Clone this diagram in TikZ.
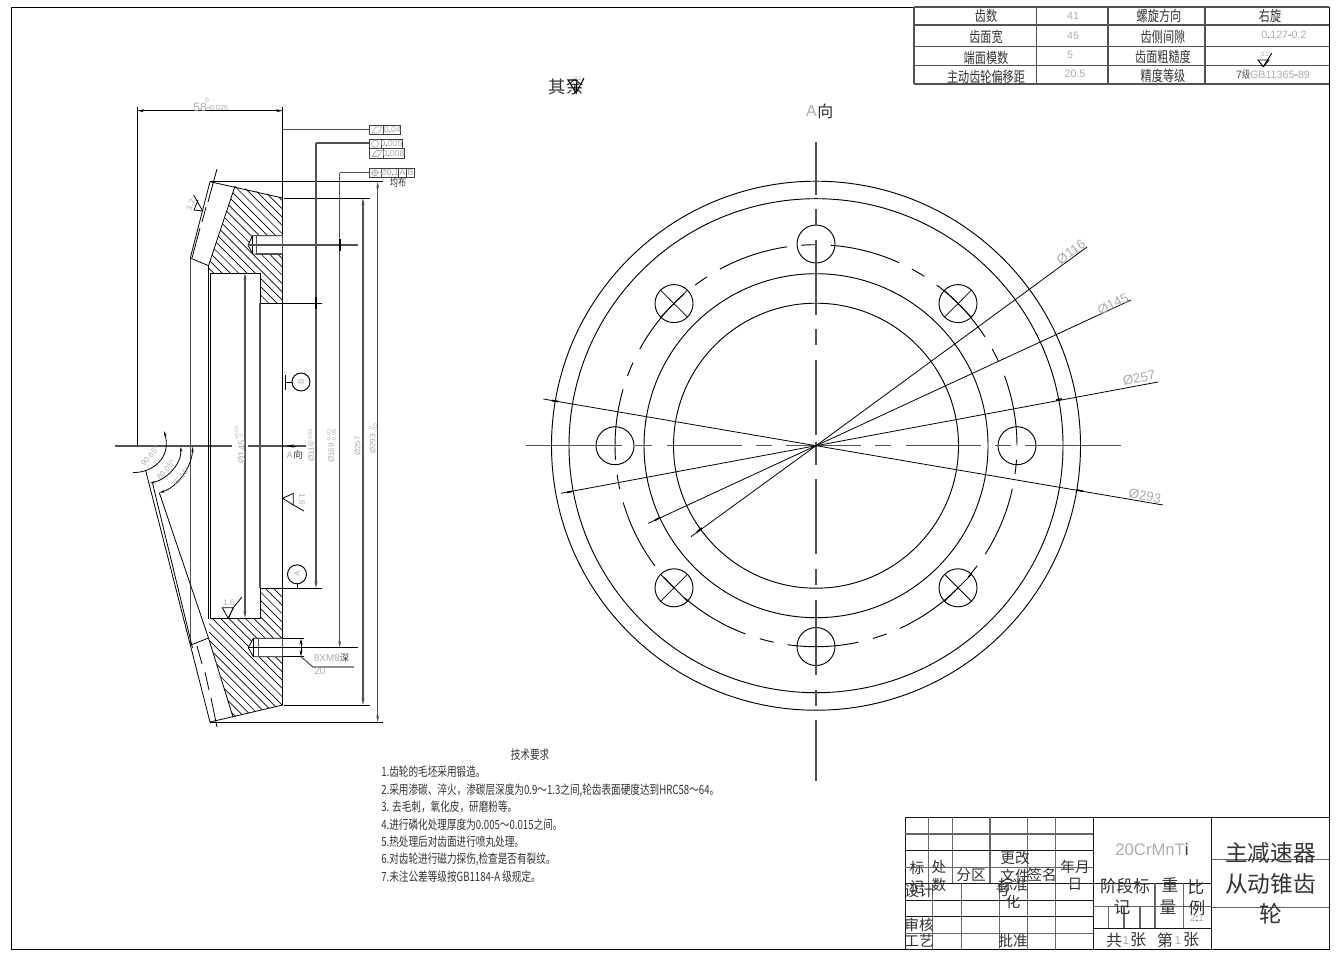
\documentclass[tikz,border=0pt]{standalone}
\usepackage{fontspec}
\usetikzlibrary{arrows.meta}
\setmainfont{Liberation Sans}
\newfontfamily\cjfull{Noto Sans CJK SC}
\newfontfamily\cjn[FakeStretch=0.76]{Noto Sans CJK SC}
\newfontfamily\cjs[FakeStretch=0.76]{Noto Sans CJK SC}
\newcommand\fz[1]{\fontsize{#1}{#1}\selectfont}
\definecolor{dimtxt}{gray}{0.68}
\definecolor{cjktxt}{gray}{0.2}
\tikzset{
  outl/.style={draw=black,line width=0.6pt},
  frame/.style={draw=black,line width=0.75pt},
  dimln/.style={draw=black!68,line width=0.8pt},
  thin dim/.style={draw=black,line width=0.6pt},
  gridg/.style={draw=black!60,line width=0.85pt},
  gridb/.style={draw=black!90,line width=0.6pt},
  arr/.style={-{Stealth[length=5pt,width=2.2pt]}},
  arrb/.style={{Stealth[length=5pt,width=2.2pt]}-{Stealth[length=5pt,width=2.2pt]}},
  tick/.style={draw=black,line width=1.4pt},
  dimt/.style={text=dimtxt,inner sep=0pt,font=\fz{8}},
  dimr/.style={text=dimtxt,inner sep=0pt,font=\fz{6},rotate=90},
  dimtol/.style={text=dimtxt,inner sep=0pt,font=\fz{4},rotate=90},
  cj/.style={text=cjktxt,inner sep=0pt,font=\cjfull\fz{11}},
  cjb/.style={text=cjktxt,inner sep=0pt,font=\cjfull\fz{17}},
  cjt/.style={text=cjktxt,inner sep=0pt,font=\cjn\fz{11}},
  tech/.style={text=cjktxt,inner sep=0pt,anchor=west,font=\cjs\fz{9.5}},
  fcf/.style={draw=black!75,line width=0.7pt,fill=white},
}
\begin{document}
\begin{tikzpicture}[x=0.75pt,y=-0.75pt,line join=miter]
\useasboundingbox (0,0) rectangle (1341,957);
\fill[white] (0,0) rectangle (1341,957);
% drawing frame
\draw[frame] (11,7) rectangle (1329,949.5);

% ===== section view: hatching =====
\begin{scope}
\clip (235,186)--(282.7,198)--(282.7,303)--(260,303)--(260,273)--(210,273)--(208.5,265.7)--cycle;
\foreach \c in {-90,-81.7,...,90}{\draw[black,line width=0.5pt] (150,150+\c)--(300,300+\c);}
\end{scope}
\begin{scope}
\clip (209,618)--(260,618)--(260,588)--(282.7,588)--(282.7,705)--(233,717)--(209,638)--cycle;
\foreach \c in {290,298.3,...,490}{\draw[black,line width=0.5pt] (150,150+\c)--(300,300+\c);}
\end{scope}

% axis
\draw[dimln,line width=0.9pt] (115,446)--(231.7,446);
\draw[dimln,line width=0.9pt] (248,446)--(305.7,446);
\draw[draw=black,line width=0.5pt,{Stealth[length=6pt,width=2.4pt]}-] (286,446)--(296,446);

% dimension 58
\draw[thin dim] (137.3,107)--(137.3,446);
\draw[thin dim,arrb] (137.3,110.7)--(282.7,110.7);

% gear outline top
\draw[outl] (210,181.7)--(282.7,198);
\draw[outl] (210,181.7)--(190.3,258)--(208.5,265.7);
\draw[outl] (235,186)--(208.5,265.7)--(208.5,273);
\draw[outl] (217,169)--(208,202);
\draw[outl] (206,207)--(202,222);
\draw[outl] (200,228)--(192,258);
% section inner
\draw[outl] (208.5,265.7)--(208.5,619);
\draw[outl] (210.5,273)--(210.5,618);
\draw[outl] (210.5,273)--(260,273)--(260,303)--(322,303);
\draw[outl] (210,618)--(260,618)--(260,588)--(322,588);
\draw[dimln] (190.3,258)--(190.3,645);
\draw[dimln] (260,303)--(260,588);
\draw[outl,line width=0.9pt] (282.7,107)--(282.7,705);
% gear outline bottom
\draw[outl] (208.5,638)--(233,717);
\draw[outl] (190.7,645)--(208.5,638);
\draw[outl] (145.7,470.7)--(210,722)--(282.7,705);
\draw[outl] (152.5,483)--(192.5,648);
\draw[outl] (197,646)--(202,664);
\draw[outl] (205,672)--(209,690);
\draw[outl] (211,698)--(217,727);
\draw[outl] (159.3,492.7)--(208.5,638);

% tapped hole top
\draw[outl,fill=white] (282.7,235.7)--(252.7,235.7)--(248,245)--(252.7,254)--(282.7,254);
\draw[dimln,line width=1.1pt] (256.7,235.7) rectangle (282.7,254);
\draw[outl] (252.7,235.7)--(252.7,254);
\draw[dimln] (248,245)--(358,245);
% tapped hole bottom
\draw[outl,fill=white] (282.7,638.3)--(253.3,638.3)--(248.3,647.7)--(253.3,656.7)--(282.7,656.7);
\draw[dimln,line width=1.1pt] (258.3,638.3) rectangle (282.7,656.7);
\draw[outl] (253.3,638.3)--(253.3,656.7);
\draw[outl] (248.3,647.7)--(358,647.7);
\draw[outl] (282.7,638.3)--(304,638.3);
\draw[outl] (282.7,656.7)--(304,656.7);
\draw[thin dim,arrb] (301,638.3)--(301,656.7);
\draw[dimln] (301,656.7)--(313,667)--(354,667);
\node[dimt,anchor=west,font=\fz{7.5}] (n8xm) at (313.5,657.5) {8XM8\textcolor{cjktxt}{\cjfull\fz{7}深}};
\node[dimt,anchor=west,font=\fz{7.5}] (n20) at (314,671) {20};

% horizontal extension lines
\draw[outl] (210,181.7)--(383,181.7);
\draw[outl] (284,198)--(370,198);
\draw[outl] (284,705)--(370,705);
\draw[outl] (210,722)--(383,722);

% vertical dimension lines
\draw[dimln,arrb] (245,273)--(245,618);
\draw[dimln,arr] (316,143)--(316,588);
\draw[tick] (316,297)--(316,309);
\draw[dimln,arr] (339.7,172.7)--(339.7,647.7);
\draw[tick] (339.7,239)--(339.7,251);
\draw[dimln,arrb] (363,198)--(363,705);
\draw[dimln,arrb] (377.7,181.7)--(377.7,722);

% leaders to feature frames
\draw[dimln] (282.7,129.7)--(369,129.7);
\draw[dimln] (316,143)--(369,143);
\draw[dimln] (339.7,172.7)--(369,172.7);

% feature control frames
\draw[fcf] (369,125) rectangle (400.7,134.5);
\draw[fcf] (383.7,125)--(383.7,134.5);
\draw[dimtxt,line width=0.5pt] (372,133)--(376,127)--(382,127)--(378,133)--cycle;
\node[dimt,font=\fz{6.5}] (fa) at (392.3,130) {0\textcolor{black}{.}04};
\draw[fcf] (369,139) rectangle (402,148.5);
\draw[fcf] (381,139)--(381,148.5);
\draw[dimtxt,line width=0.5pt] (375,143.7) circle (3.6);
\node[dimt,font=\fz{6.5}] (fb) at (391.5,144) {0\textcolor{black}{.}005};
\draw[fcf] (369,148.5) rectangle (404,158);
\draw[fcf] (383,148.5)--(383,158);
\draw[dimtxt,line width=0.5pt] (372,156.5)--(376,150.5)--(382,150.5)--(378,156.5)--cycle;
\node[dimt,font=\fz{6.5}] (fc) at (393.5,153.5) {0\textcolor{black}{.}008};
\draw[fcf] (369,168) rectangle (414.5,177.7);
\draw[fcf] (381,168)--(381,177.7) (398,168)--(398,177.7) (406.7,168)--(406.7,177.7);
\draw[dimtxt,line width=0.5pt] (375,172.8) circle (3) (370.5,172.8)--(379.5,172.8) (375,169)--(375,176.5);
\node[dimt,font=\fz{6.5}] (fd) at (389.5,173) {Ø0\textcolor{black}{.}1};
\node[dimt,font=\fz{6.5}] (fe) at (402.3,173) {A};
\node[dimt,font=\fz{6.5}] (ff) at (410.5,173) {B};
\node[cjt,font=\cjn\fz{8}] (jb) at (398,182.5) {均布};

% datum symbols
\draw[outl] (285.7,375)--(285.7,390) (285.7,382)--(292,382);
\draw[outl,line width=0.7pt] (301,382) circle (9);
\node[dimt,font=\fz{6},rotate=90] (db) at (301,382) {B};
\draw[outl] (297,584)--(297,588);
\draw[outl,line width=0.7pt] (297,574.3) circle (9.5);
\node[dimt,font=\fz{6},rotate=90] (da) at (297,574) {A};

% roughness marks
\draw[outl] (193.7,195)--(202.7,211)--(194,210)--(198,200);
\node[dimt,font=\fz{6},rotate=70] (r1) at (190.7,205) {3.2};
\draw[outl] (282.7,498.3)--(293.3,493.3)--(293.3,505)--cycle;
\draw[outl] (293.3,505)--(304,511);
\node[dimt,font=\fz{6},rotate=-90] (r2) at (302,499.5) {1.6};
\draw[outl] (222.3,607.7)--(233.3,607.7)--(228.3,618.3)--cycle;
\draw[outl] (233.3,607.7)--(228.3,618.3) (233.3,607.7)--(241.7,597.3);
\node[dimt,font=\fz{6}] (r3) at (229,603) {1.6};

% angle arcs
\draw[thin dim,-{Stealth[length=4pt,width=1.8pt]}] (133,472.5) .. controls (152,473) and (172,458) .. (164,431);
\draw[thin dim,{Stealth[length=4pt,width=1.8pt]}-{Stealth[length=4pt,width=1.8pt]}] (150,483) .. controls (166,480) and (182,464) .. (180.7,446.7);
\draw[thin dim,{Stealth[length=4pt,width=1.8pt]}-{Stealth[length=4pt,width=1.8pt]}] (159.3,492.7) .. controls (176,488) and (192,468) .. (192.7,446.7);
\node[dimt,font=\fz{6},rotate=48] (a1) at (150,456) {90.65°};
\node[dimt,font=\fz{6},rotate=48] (a2) at (166,470) {80.05°};
\node[dimt,font=\fz{6},rotate=48] (a3) at (181,477) {75.15°};

% dimension texts
\node[dimt,font=\fz{9}] (d58) at (202,107.5) {58-};
\node[dimt,font=\fz{5}] (d58a) at (207,100.5) {0};
\node[dimt,font=\fz{5.5}] (d58b) at (219,108) {0.025};
\node[dimr,font=\fz{7}] (d145) at (241.7,452) {Ø145};
\node[dimtol] (d145a) at (236.5,433) {+0.03};
\node[dimtol] (d145b) at (241.5,436) {0};
\node[dimr] (d116) at (311,452) {Ø116};
\node[dimtol] (d116a) at (310,436) {+0.03};
\node[dimr] (d169) at (331,453) {Ø169};
\node[dimtol] (d169a) at (329,436) {-0.03};
\node[dimtol] (d169b) at (334,436) {-0.05};
\node[dimr] (d257) at (357.5,446) {Ø257};
\node[dimr] (d293) at (372.7,444) {Ø293};
\node[dimtol] (d293a) at (371,428) {0};
\node[dimtol] (d293b) at (375,428) {-0.5};
\node[dimt,anchor=east,font=\fz{7}] (aA) at (293,455) {A};
\node[cj,anchor=west,font=\cjfull\fz{7}] (aX) at (293,455) {向};

% ===== front view =====
\foreach \r in {264.5,247,172,142.5}{\draw[outl,line width=0.7pt] (816,445.7) circle (\r);}
\foreach \k in {0,...,10}{
  \pgfmathsetmacro\sa{163.7+\k*32.73}
  \draw[outl,line width=0.7pt] plot[domain=\sa:\sa+20.3,samples=12,smooth] ({816+201*cos(\x)},{445.7-201*sin(\x)});
  \draw[outl,line width=0.7pt] plot[domain=\sa+24.6:\sa+28.7,samples=4] ({816+201*cos(\x)},{445.7-201*sin(\x)});
}
\foreach \p in {(816,244),(816,646.5),(615,445.7),(1017,445.7)}{\draw[outl,line width=0.7pt] \p circle (19);}
\foreach \cx/\cy in {958/303.6,674/303.6,958/587.8,674/587.8}{
  \draw[outl,line width=0.7pt] (\cx,\cy) circle (19);
  \draw[outl] (\cx-13.4,\cy-13.4)--(\cx+13.4,\cy+13.4) (\cx-13.4,\cy+13.4)--(\cx+13.4,\cy-13.4);
}
% centre lines
\foreach \a/\b in {526/622,635/652,667/742,756/772,786/861,875/891,906/981,995/1011,1025/1121}{
  \draw[dimln] (\a,445.7)--(\b,445.7);}
\foreach \a/\b in {142/195,209/225,240/315,329/345,360/435,441.7/465,479/554,569/585,600/675,690/706,720/781}{
  \draw[dimln] (816,\a)--(816,\b);}
% diameter leaders
\coordinate (cc) at (816,445.7);
\draw[outl] (cc)--(1087,247);
\draw[outl] (cc)--(1131,300);
\draw[outl] (cc)--(1158,382);
\draw[outl] (cc)--(1163,505);
\draw[outl] (cc)--(543.3,399);
\draw[outl] (cc)--(561,493.3);
\draw[outl] (cc)--(648.3,523.3);
\draw[outl] (cc)--(691,536.7);
\foreach \x/\y/\u/\v in {552/400.5/558/401.5,567/492.3/572/491.4,655/520.3/660/517.5,697/532/702/528,1062/399/1056/400,1083/491.2/1077/490}{
  \draw[black,line width=1.3pt] (\x,\y)--(\u,\v);}
\node[dimt,font=\fz{10},rotate=36] (p116) at (1071,252) {Ø116};
\node[dimt,font=\fz{10},rotate=27] (p145) at (1113,304) {Ø145};
\node[dimt,font=\fz{10},rotate=10] (p257) at (1139,378) {Ø257};
\node[dimt,font=\fz{10},rotate=-10] (p293) at (1145,496) {Ø293};
\node[dimt,anchor=east,font=\fz{12}] (vA) at (817,111) {A};
\node[cj,anchor=west,font=\cjfull\fz{12}] (vX) at (817,111) {向};

% other roughness
\node[cj,font=\cjfull\fz{13}] (qy) at (566,87) {其余};
\draw[outl,line width=0.8pt] (568,80)--(577,80)--(576,93)--cycle;
\draw[outl,line width=0.8pt] (576,93)--(584,78);
\node[dimt,font=\fz{4}] (q32) at (578,78.5) {3.2};

% ===== parameter table =====
\foreach \y in {7,25,46.7,65.7,84}{\draw[dimln,line width=0.9pt] (914,\y)--(1329,\y);}
\foreach \x in {914,1036.7,1108,1205}{\draw[dimln,line width=0.9pt] (\x,7)--(\x,84);}
\node[cjt] (t1) at (986,15.5) {齿数};
\node[dimt] (t2) at (1073,16) {41};
\node[cjt] (t3) at (1159,16) {螺旋方向};
\node[cjt] (t4) at (1270,15.5) {右旋};
\node[cjt] (t5) at (986,37) {齿面宽};
\node[dimt] (t6) at (1073,36) {45};
\node[cjt] (t7) at (1163,37) {齿侧间隙};
\node[dimt] (t8) at (1284,35) {0\textcolor{black}{.}127\textcolor{black!70}{-}0.2};
\node[cjt] (t9) at (986,58) {端面模数};
\node[dimt] (t10) at (1070,55) {5};
\node[cjt] (t11) at (1163,57) {齿面粗糙度};
\draw[outl,line width=0.7pt] (1258,60)--(1269,60)--(1263.3,66.7)--cycle;
\draw[outl,line width=0.7pt] (1263.3,66.7)--(1271.7,53.3);
\node[dimt,font=\fz{4.5}] (t12) at (1265,54) {3.2};
\node[cjt] (t13) at (986,77) {主动齿轮偏移距};
\node[dimt] (t14) at (1075,74) {20.5};
\node[cjt] (t15) at (1163,76) {精度等级};
\node[dimt] (t16) at (1273,74) {\textcolor{black!70}{7\cjn 级}GB11365\textcolor{black!70}{-}89};

% ===== title block =====
\draw[gridb] (905,817.3)--(1329,817.3);
\draw[gridb] (905,817.3)--(905,949.5);
\draw[gridb] (1329,817.3)--(1329,949.5);
\foreach \x in {928.3,952.3,990,1027.7,1055.7}{\draw[gridg] (\x,817.3)--(\x,883.3);}
\foreach \x in {932.7,961.7,999.3,1027.7,1055.7}{\draw[gridg] (\x,883.3)--(\x,949.5);}
\draw[gridb] (1093.3,817.3)--(1093.3,949.5);
\draw[gridb] (1211.7,817.3)--(1211.7,949.5);
\draw[gridg] (905,834)--(1093.3,834);
\draw[gridb] (905,850.7)--(1093.3,850.7);
\draw[gridg] (905,867.3)--(1093.3,867.3);
\draw[gridb] (905,883.3)--(1211.7,883.3);
\draw[gridb] (905,900)--(1093.3,900);
\draw[gridb] (905,916.7)--(1093.3,916.7);
\draw[gridg] (905,933.3)--(1093.3,933.3);
\draw[gridg] (1093.3,906.7)--(1211.7,906.7);
\draw[gridb] (1093.3,928.3)--(1211.7,928.3);
\draw[gridg] (1155,883.3)--(1155,928.3) (1183.3,883.3)--(1183.3,928.3);
\draw[gridg] (1108.3,906.7)--(1108.3,928.3) (1124,906.7)--(1124,928.3) (1140,906.7)--(1140,928.3);
\draw[gridg] (1211.7,859.3)--(1329,859.3) (1211.7,907.3)--(1329,907.3);
\node[cj] (b1) at (917,868) {标};
\node[cj] (b2) at (917,887) {记};
\node[cj] (b3) at (939,867) {处};
\node[cj] (b4) at (939,885) {数};
\node[cj] (b5) at (971,875) {分区};
\node[cj] (b6) at (1015,858) {更改};
\node[cj] (b7) at (1015,876) {文件};
\node[cj] (b8) at (1003,890) {号};
\node[cj] (b9) at (1013,885) {标准};
\node[cj] (b10) at (1013,902) {化};
\node[cj] (b11) at (1042,875) {签名};
\node[cj] (b12) at (1075,867) {年月};
\node[cj] (b13) at (1075,884) {日};
\node[cj] (b14) at (919,891) {设计};
\node[cj] (b15) at (919,925) {审核};
\node[cj] (b16) at (919,941) {工艺};
\node[cj] (b17) at (1013,941) {批准};
\node[dimt,font=\fz{12.5}] (b18) at (1152,850) {20CrMnT\textcolor{black!80}{i}};
\node[cj,font=\cjfull\fz{12.5}] (b19) at (1125,886) {阶段标};
\node[cj,font=\cjfull\fz{12.5}] (b20) at (1122,907) {记};
\node[cj,font=\cjfull\fz{12.5}] (b21) at (1170,885) {重};
\node[cj,font=\cjfull\fz{12.5}] (b22) at (1168,907) {量};
\node[cj,font=\cjfull\fz{12.5}] (b23) at (1196,887) {比};
\node[cj,font=\cjfull\fz{12.5}] (b24) at (1197,908) {例};
\node[dimt,font=\fz{7.5}] (b25) at (1197,918) {2\textcolor{black}{:}1};
\node[cj,font=\cjfull\fz{12}] (b26) at (1114,940) {共};
\node[dimt,font=\fz{9}] (b27) at (1126,940) {1};
\node[cj,font=\cjfull\fz{12}] (b28) at (1138,940) {张};
\node[cj,font=\cjfull\fz{12}] (b29) at (1165,940) {第};
\node[dimt,font=\fz{9}] (b30) at (1178,940) {1};
\node[cj,font=\cjfull\fz{12}] (b31) at (1191,940) {张};
\node[cjb] (b32) at (1270.5,853) {主减速器};
\node[cjb] (b33) at (1270.5,884) {从动锥齿};
\node[cjb] (b34) at (1270.5,914) {轮};

% ===== technical requirements =====
\node[cjt,font=\cjs\fz{9.5}] (r0) at (530,755) {技术要求};
\node[tech] (q1) at (381,772) {1.齿轮的毛坯采用锻造。};
\node[tech] (q2) at (381,790) {2.采用渗碳、淬火，渗碳层深度为0.9～1.3之间,轮齿表面硬度达到HRC58～64。};
\node[tech] (q3) at (381,807) {3.  去毛刺，氧化皮，研磨粉等。};
\node[tech] (q4) at (381,825) {4.进行磷化处理厚度为0.005～0.015之间。};
\node[tech] (q5) at (381,842) {5.热处理后对齿面进行喷丸处理。};
\node[tech] (q6) at (381,859) {6.对齿轮进行磁力探伤,检查是否有裂纹。};
\node[tech] (q7) at (381,877) {7.未注公差等级按GB1184-A 级规定。};
\end{tikzpicture}
\end{document}
